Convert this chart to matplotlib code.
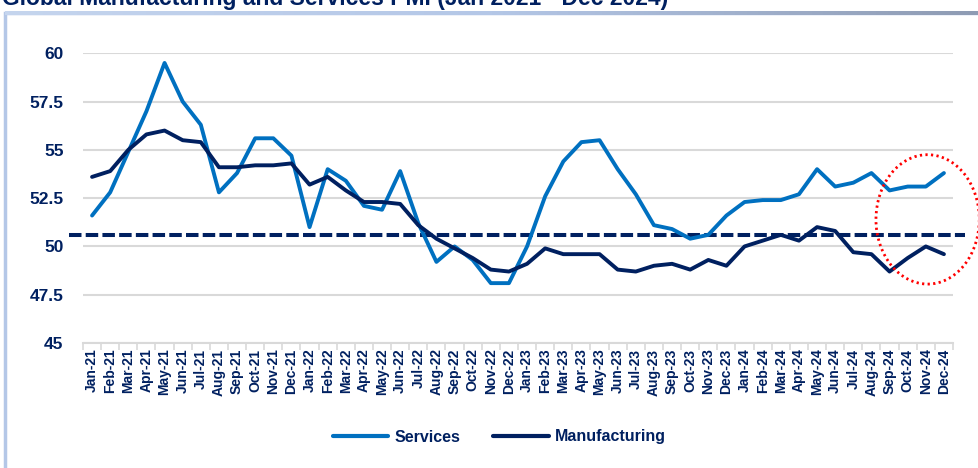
import numpy as np
import matplotlib
matplotlib.use("Agg")
import matplotlib.pyplot as plt
from matplotlib.patches import Ellipse, Rectangle
from matplotlib.colors import LinearSegmentedColormap

months = ["Jan", "Feb", "Mar", "Apr", "May", "Jun", "Jul", "Aug", "Sep", "Oct", "Nov", "Dec"]
categories = [f"{m}-{y}" for y in ["21", "22", "23", "24"] for m in months]

services = [51.6, 52.8, 54.9, 57.0, 59.5, 57.5, 56.3, 52.8, 53.8, 55.6, 55.6, 54.7,
            51.0, 54.0, 53.4, 52.1, 51.9, 53.9, 51.2, 49.2, 50.0, 49.3, 48.1, 48.1,
            50.0, 52.6, 54.4, 55.4, 55.5, 54.0, 52.7, 51.1, 50.9, 50.4, 50.6, 51.6,
            52.3, 52.4, 52.4, 52.7, 54.0, 53.1, 53.3, 53.8, 52.9, 53.1, 53.1, 53.8]
manufacturing = [53.6, 53.9, 55.0, 55.8, 56.0, 55.5, 55.4, 54.1, 54.1, 54.2, 54.2, 54.3,
                 53.2, 53.6, 52.9, 52.3, 52.3, 52.2, 51.1, 50.4, 49.9, 49.4, 48.8, 48.7,
                 49.1, 49.9, 49.6, 49.6, 49.6, 48.8, 48.7, 49.0, 49.1, 48.8, 49.3, 49.0,
                 50.0, 50.3, 50.6, 50.3, 51.0, 50.8, 49.7, 49.6, 48.7, 49.4, 50.0, 49.6]
average_level = 50.6
y_ticks = [45, 47.5, 50, 52.5, 55, 57.5, 60]
y_tick_labels = ["45", "47.5", "50", "52.5", "55", "57.5", "60"]
title = "Global Manufacturing and Services PMI (Jan 2021 - Dec 2024)"

NAVY = "#002060"
BLUE = "#0070C0"
FONT = "Liberation Sans"

W, H = 979, 468
fig = plt.figure(figsize=(W / 100, H / 100), dpi=100)

# frame decoration (drawn below everything)
frame = Rectangle((5 / W, -0.05), 1.0, 1 - 13 / H + 0.05, transform=fig.transFigure,
                  facecolor="white", edgecolor="#b4c7e7", linewidth=2.5, zorder=-10)
fig.patches.append(frame)
gax = fig.add_axes([5 / W, 1 - 15 / H, 1 - 5 / W, 4 / H], zorder=-5)
grad = np.linspace(0, 1, 256)[None, :]
cmap = LinearSegmentedColormap.from_list("g", ["#c5d5ee", "#b4c7e7", "#8e9bb3"])
gax.imshow(grad, aspect="auto", cmap=cmap)
gax.axis("off")

fig.text(2 / W, 1 - 5 / H, title, fontsize=16.5, fontweight="bold", color=NAVY,
         family=FONT, va="baseline", ha="left")

ax = fig.add_axes([83 / W, 1 - 343 / H, (953 - 83) / W, (343 - 53.3) / H], zorder=5)
ax.patch.set_alpha(0)
x = np.arange(len(categories))

ax.set_ylim(45, 60)
ax.set_xlim(-0.5, len(categories) - 0.5)
ax.set_yticks(y_ticks)
ax.set_yticklabels(y_tick_labels)
ax.yaxis.grid(True, color="#d9d9d9", linewidth=1.5)
ax.set_axisbelow(True)
for s in ["top", "right", "left"]:
    ax.spines[s].set_visible(False)
ax.spines["bottom"].set_color("#d9d9d9")
ax.spines["bottom"].set_linewidth(1.5)

ax.set_xticks(x)
ax.set_xticklabels(categories, rotation=90)
ax.set_xticks(np.arange(-0.5, len(categories), 1), minor=True)
ax.tick_params(axis="x", which="major", length=0, pad=4)
ax.tick_params(axis="x", which="minor", length=5, color="#d9d9d9", width=1.2)
ax.tick_params(axis="y", length=0, pad=14)
for lab in ax.get_xticklabels():
    lab.set_fontfamily(FONT); lab.set_fontweight("bold"); lab.set_color(NAVY); lab.set_fontsize(10)
for lab in ax.get_yticklabels():
    lab.set_fontfamily(FONT); lab.set_fontweight("bold"); lab.set_color(NAVY); lab.set_fontsize(12.5)

ax.axhline(average_level, xmin=-0.016, xmax=1.014, color=NAVY, linewidth=2.9,
           linestyle=(0, (3.1, 1.05)), clip_on=False, zorder=2)
ax.plot(x, services, color=BLUE, linewidth=2.8, label="Services", solid_capstyle="round", zorder=3)
ax.plot(x, manufacturing, color=NAVY, linewidth=2.8, label="Manufacturing", solid_capstyle="round", zorder=3)

ell = Ellipse((46.1, 51.4), 5.7, 6.7, fill=False, edgecolor="red", linewidth=2,
              linestyle=(0, (0.8, 1.2)), clip_on=False, zorder=5)
ax.add_patch(ell)

leg = fig.legend(loc="center", bbox_to_anchor=(0.51, 1 - 437 / H), ncol=2, frameon=False,
                 prop={"family": FONT, "weight": "bold", "size": 11.5},
                 handlelength=3.5, handletextpad=0.4, columnspacing=2.0)
for t in leg.get_texts():
    t.set_color(NAVY)
for l in leg.get_lines():
    l.set_linewidth(3)

fig.savefig("out.png", dpi=100)
